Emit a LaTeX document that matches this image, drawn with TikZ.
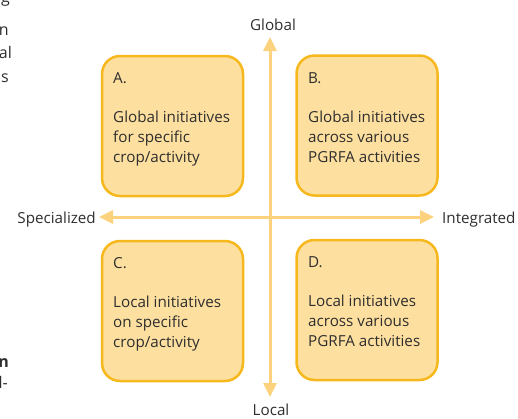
\documentclass[tikz,border=0pt]{standalone}
\usepackage{fontspec}
\setmainfont{Open Sans}
\usetikzlibrary{arrows.meta}
\definecolor{boxfill}{HTML}{FDDFA0}
\definecolor{boxline}{HTML}{F6B81C}
\definecolor{axiscol}{HTML}{FCD27E}
\definecolor{ink}{HTML}{2E2E2E}
\begin{document}
\begin{tikzpicture}[x=1bp,y=-1bp,
  every node/.style={text=ink, font=\fontsize{15.2bp}{19.8bp}\selectfont},
  qbox/.style={draw=boxline, fill=boxfill, line width=2.5bp, rounded corners=18bp,
    minimum width=141bp, minimum height=140bp, inner sep=0pt},
  qtext/.style={anchor=north west, align=left, inner sep=0pt},
  axis/.style={draw=axiscol, line width=3bp,
    arrows={Triangle[length=14bp,width=13bp]-Triangle[length=14bp,width=13bp]}},
  margintext/.style={anchor=base east, inner sep=0pt,
    font=\fontsize{16bp}{23bp}\selectfont}
]
\useasboundingbox (0,0) rectangle (518,418);

% running text of the neighbouring column
\node[margintext] (m1) at (10,2) {g};
\node[margintext] (m2) at (9,35) {n};
\node[margintext] (m3) at (12,58) {al};
\node[margintext] (m4) at (9,82) {s};
\node[margintext, font=\fontsize{16bp}{23bp}\selectfont\bfseries] (m5) at (9,367) {n};
\node[margintext] (m6) at (8,388) {l-};

% quadrant boxes
\node[qbox] (A) at (172.5,126) {};
\node[qbox] (B) at (367,125.5) {};
\node[qbox] (C) at (172.5,311) {};
\node[qbox] (D) at (367,310) {};

\node[qtext] (At) at (113,72) {A.\\[19.8bp]Global initiatives\\for specific\\crop/activity};
\node[qtext] (Bt) at (308,72) {B.\\[19.8bp]Global initiatives\\across various\\PGRFA activities};
\node[qtext] (Ct) at (113,257) {C.\\[19.8bp]Local initiatives\\on specific\\crop/activity};
\node[qtext] (Dt) at (308,256) {D.\\[19.8bp]Local initiatives\\across various\\PGRFA activities};

% axes
\coordinate (top) at (270,37);
\coordinate (bot) at (270,397);
\coordinate (lft) at (99,217);
\coordinate (rgt) at (434,217);
\draw[axis] (bot) -- (top);
\draw[axis] (lft) -- (rgt);

\node[anchor=base] (global) at (273,30) {Global};
\node[anchor=base] (local) at (271,415) {Local};
\node[anchor=base east, inner sep=0pt] (spec) at (96,223) {Specialized};
\node[anchor=base west, inner sep=0pt] (integ) at (442,223) {Integrated};
\end{tikzpicture}
\end{document}
